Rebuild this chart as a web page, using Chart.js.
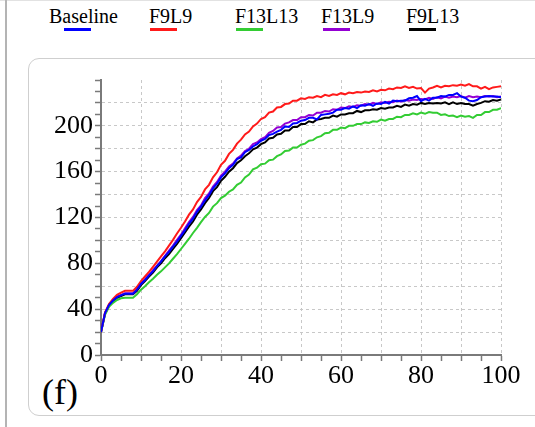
<!DOCTYPE html>
<html>
<head>
<meta charset="utf-8">
<script src="https://cdn.jsdelivr.net/npm/chart.js@4.4.1/dist/chart.umd.min.js"></script>
<style>
  html, body { margin: 0; padding: 0; background: #fff; }
  body { width: 535px; height: 427px; position: relative; overflow: hidden; font-family: "Liberation Serif", serif; }
  #leftLine { position: absolute; left: 5px; top: 0; width: 2px; height: 427px; background: #b4b4b4; }
  #topLine { position: absolute; left: 0; top: 0; width: 535px; height: 1px; background: #e2e2e2; }
  #box { position: absolute; left: 28px; top: 58px; width: 530px; height: 356px; border: 1.5px solid #cfcfcf; border-radius: 11px; }
  .item { position: absolute; top: 5px; font-size: 20px; line-height: 22px; color: #000; }
  .bar { position: absolute; top: 28px; height: 3px; width: 27px; }
  #panel { position: absolute; left: 42px; top: 374px; font-size: 36px; line-height: 36px; }
  #wrap { position: absolute; left: 0; top: 0; }
</style>
</head>
<body>
<div id="topLine"></div>
<div id="leftLine"></div>
<div id="box"></div>
<div id="legend"></div>
<div id="panel">(f)</div>
<div id="wrap"><canvas id="chart" width="535" height="427"></canvas></div>
<script>
// series names and colours
const names = ['Baseline', 'F9L9', 'F13L13', 'F13L9', 'F9L13'];
const colors = ['#0000ff', '#ff1a1a', '#33cc33', '#9400d3', '#000000'];

// values, one per time step 0..100
const baseline = [
  20, 36.5, 43.5, 47.5, 50.5, 52, 53.5, 53.5, 53.5, 57, 62,
  65.5, 69.5, 73, 77.5, 81.5, 86, 90, 94.5, 99, 104,
  109, 114.5, 119, 125, 129.5, 135, 139.5, 145.5, 149.5, 155,
  158.5, 163, 166, 171, 172.5, 177, 179, 182, 184, 187,
  188.5, 192, 193, 195, 196.5, 199.5, 199, 202, 202.5, 204.5,
  205, 207, 207, 205.5, 209.5, 210, 210.5, 211.5, 214, 214,
  215.5, 215, 217, 215.5, 218, 217.5, 219, 217.5, 219.5, 219,
  221, 219.5, 222, 221.5, 222, 222, 224, 224.5, 226, 221.5,
  223.5, 222, 224.5, 224.5, 226, 225.5, 227, 227, 228.5, 225.5,
  224.5, 222, 221.5, 222.5, 225, 225.5, 226, 225.5, 225.5, 225
];
const f9l9 = [
  20, 37, 44.5, 49, 52.5, 54.5, 56, 56, 56, 59.5, 64.5,
  68.5, 72.5, 77, 81.5, 86, 90.5, 95.5, 100.5, 106, 111,
  116.5, 122.5, 127, 133.5, 138, 144.5, 148.5, 155, 159.5, 166,
  169.5, 175.5, 179, 184.5, 188, 192.5, 195, 199.5, 202, 206,
  207.5, 211.5, 212.5, 216, 216.5, 219, 219.5, 222, 222, 224,
  223.5, 225, 224.5, 226, 225, 227, 226, 227.5, 227, 228.5,
  227.5, 229, 228.5, 229.5, 229, 230, 229.5, 231, 230, 231.5,
  231, 232.5, 232, 233.5, 233, 234.5, 233, 234, 232.5, 233,
  229, 232.5, 233.5, 235, 233.5, 235, 234.5, 235.5, 235, 236,
  235, 236.5, 234.5, 234.5, 232.5, 234, 232, 233.5, 234, 234.5
];
const f13l13 = [
  20, 35, 42, 45.5, 48, 49.5, 50, 50, 50, 53, 57,
  60, 63.5, 66.5, 70, 73, 76.5, 80, 84, 88, 92.5,
  97, 101.5, 106.5, 111, 116, 120.5, 124, 129.5, 132.5, 137,
  139, 142.5, 144.5, 148.5, 150.5, 155, 157.5, 162, 163.5, 166.5,
  167, 170, 170.5, 173.5, 175, 178, 178.5, 181, 181, 183.5,
  184.5, 187, 187.5, 190, 191, 193.5, 194, 196.5, 196.5, 198.5,
  198, 200, 200, 201.5, 201.5, 203, 202.5, 204, 203.5, 205.5,
  204.5, 206, 206, 208, 207.5, 209.5, 209.5, 211, 210, 211.5,
  210.5, 212, 211.5, 211.5, 209.5, 210, 208.5, 209, 207.5, 209,
  208, 208.5, 207, 209.5, 209.5, 212, 212, 214, 214, 215.5
];
const f13l9 = [
  20, 36.5, 44, 48, 51, 52.5, 54, 54, 54, 57.5, 62.5,
  66, 70, 74, 78, 82, 86.5, 91, 95.5, 100.5, 105,
  110.5, 116, 120.5, 126.5, 130.5, 137, 141, 147, 151, 156.5,
  160, 164.5, 167, 171.5, 174, 178, 180, 184, 185.5, 188.5,
  190, 194, 195.5, 198.5, 199, 202, 203, 205, 205, 207.5,
  207.5, 209.5, 209, 211.5, 211.5, 213, 212.5, 214.5, 214, 216,
  215.5, 217, 216.5, 218, 217.5, 219, 218.5, 220, 219, 220.5,
  220, 221, 220.5, 222, 221, 222.5, 222, 223, 222.5, 223.5,
  223, 224.5, 223.5, 225, 224, 225.5, 224.5, 225.5, 225, 226,
  224.5, 226, 225, 225.5, 225, 226, 225.5, 226, 225, 225.5
];
const f9l13 = [
  20, 36, 43, 47, 50, 51.5, 53, 53, 53, 56, 61,
  64.5, 68.5, 72, 76.5, 80, 84.5, 88, 92.5, 97, 102,
  107, 112, 116.5, 122.5, 127, 132.5, 137, 143, 146.5, 152,
  155.5, 160, 163, 167.5, 170, 173.5, 176, 179.5, 181, 184,
  185.5, 189, 189.5, 192.5, 193, 196, 196, 199, 199, 201.5,
  201.5, 204, 203, 205.5, 206, 207, 207, 209, 208, 210,
  210, 211, 211, 213, 212, 213.5, 213.5, 214.5, 214, 215.5,
  215, 216, 216, 217.5, 216.5, 218.5, 217.5, 219, 218.5, 220,
  219, 220, 219.5, 220, 219.5, 220.5, 219, 220.5, 219, 220,
  219, 219, 217.5, 219, 220, 221.5, 221, 222.5, 222, 223
];
const steps = baseline.map((_, i) => i);

// axis ticks
const yLabels = [0, 40, 80, 120, 160, 200];
const xLabels = [0, 20, 40, 60, 80, 100];

// legend: text left, bar left
const legendPos = [[49, 64], [149, 150], [235, 236], [321, 323], [406, 409]];
const legend = document.getElementById('legend');
names.forEach((n, i) => {
  const t = document.createElement('div');
  t.className = 'item';
  t.style.left = legendPos[i][0] + 'px';
  t.textContent = n;
  const b = document.createElement('div');
  b.className = 'bar';
  b.style.left = legendPos[i][1] + 'px';
  b.style.background = colors[i];
  legend.append(t, b);
});

const series = [baseline, f9l9, f13l13, f13l9, f9l13];
const tickFont = { family: 'Liberation Serif', size: 26 };

new Chart(document.getElementById('chart'), {
  type: 'line',
  data: {
    datasets: series.map((s, i) => ({
      label: names[i],
      data: s.map((v, k) => ({ x: steps[k], y: v })),
      borderColor: colors[i],
      borderWidth: 2,
      pointRadius: 0,
      tension: 0,
      fill: false
    }))
  },
  options: {
    responsive: false,
    animation: false,
    devicePixelRatio: 1,
    layout: { padding: { top: 80, right: 34, left: 0, bottom: 0 } },
    plugins: { legend: { display: false }, tooltip: { enabled: false } },
    scales: {
      x: {
        type: 'linear',
        min: 0,
        max: 100,
        afterFit: s => { s.height = 72; },
        border: { color: '#7a7a7a', width: 2, dash: [3, 3] },
        grid: {
          color: c => (c.tick && c.tick.value % 10 === 0 && c.tick.value !== 0) ? '#c8c8c8' : 'rgba(0,0,0,0)',
          lineWidth: 1,
          tickColor: '#7a7a7a',
          tickWidth: 1.5,
          tickLength: 6
        },
        ticks: {
          stepSize: 5,
          autoSkip: false,
          maxRotation: 0,
          padding: 0,
          color: '#000',
          font: tickFont,
          callback: v => xLabels.includes(v) ? String(v) : ''
        }
      },
      y: {
        min: 0,
        max: 240,
        afterFit: s => { s.width = 101; },
        border: { color: '#7a7a7a', width: 2, dash: [3, 3] },
        grid: {
          color: c => (c.tick && c.tick.value % 20 === 0 && c.tick.value !== 0 && c.tick.value !== 240) ? '#c8c8c8' : 'rgba(0,0,0,0)',
          lineWidth: 1,
          tickColor: '#7a7a7a',
          tickWidth: 1.5,
          tickLength: 6
        },
        ticks: {
          stepSize: 10,
          autoSkip: false,
          padding: 2,
          color: '#000',
          font: tickFont,
          callback: v => yLabels.includes(v) ? String(v) : ''
        }
      }
    }
  }
});
</script>
</body>
</html>
